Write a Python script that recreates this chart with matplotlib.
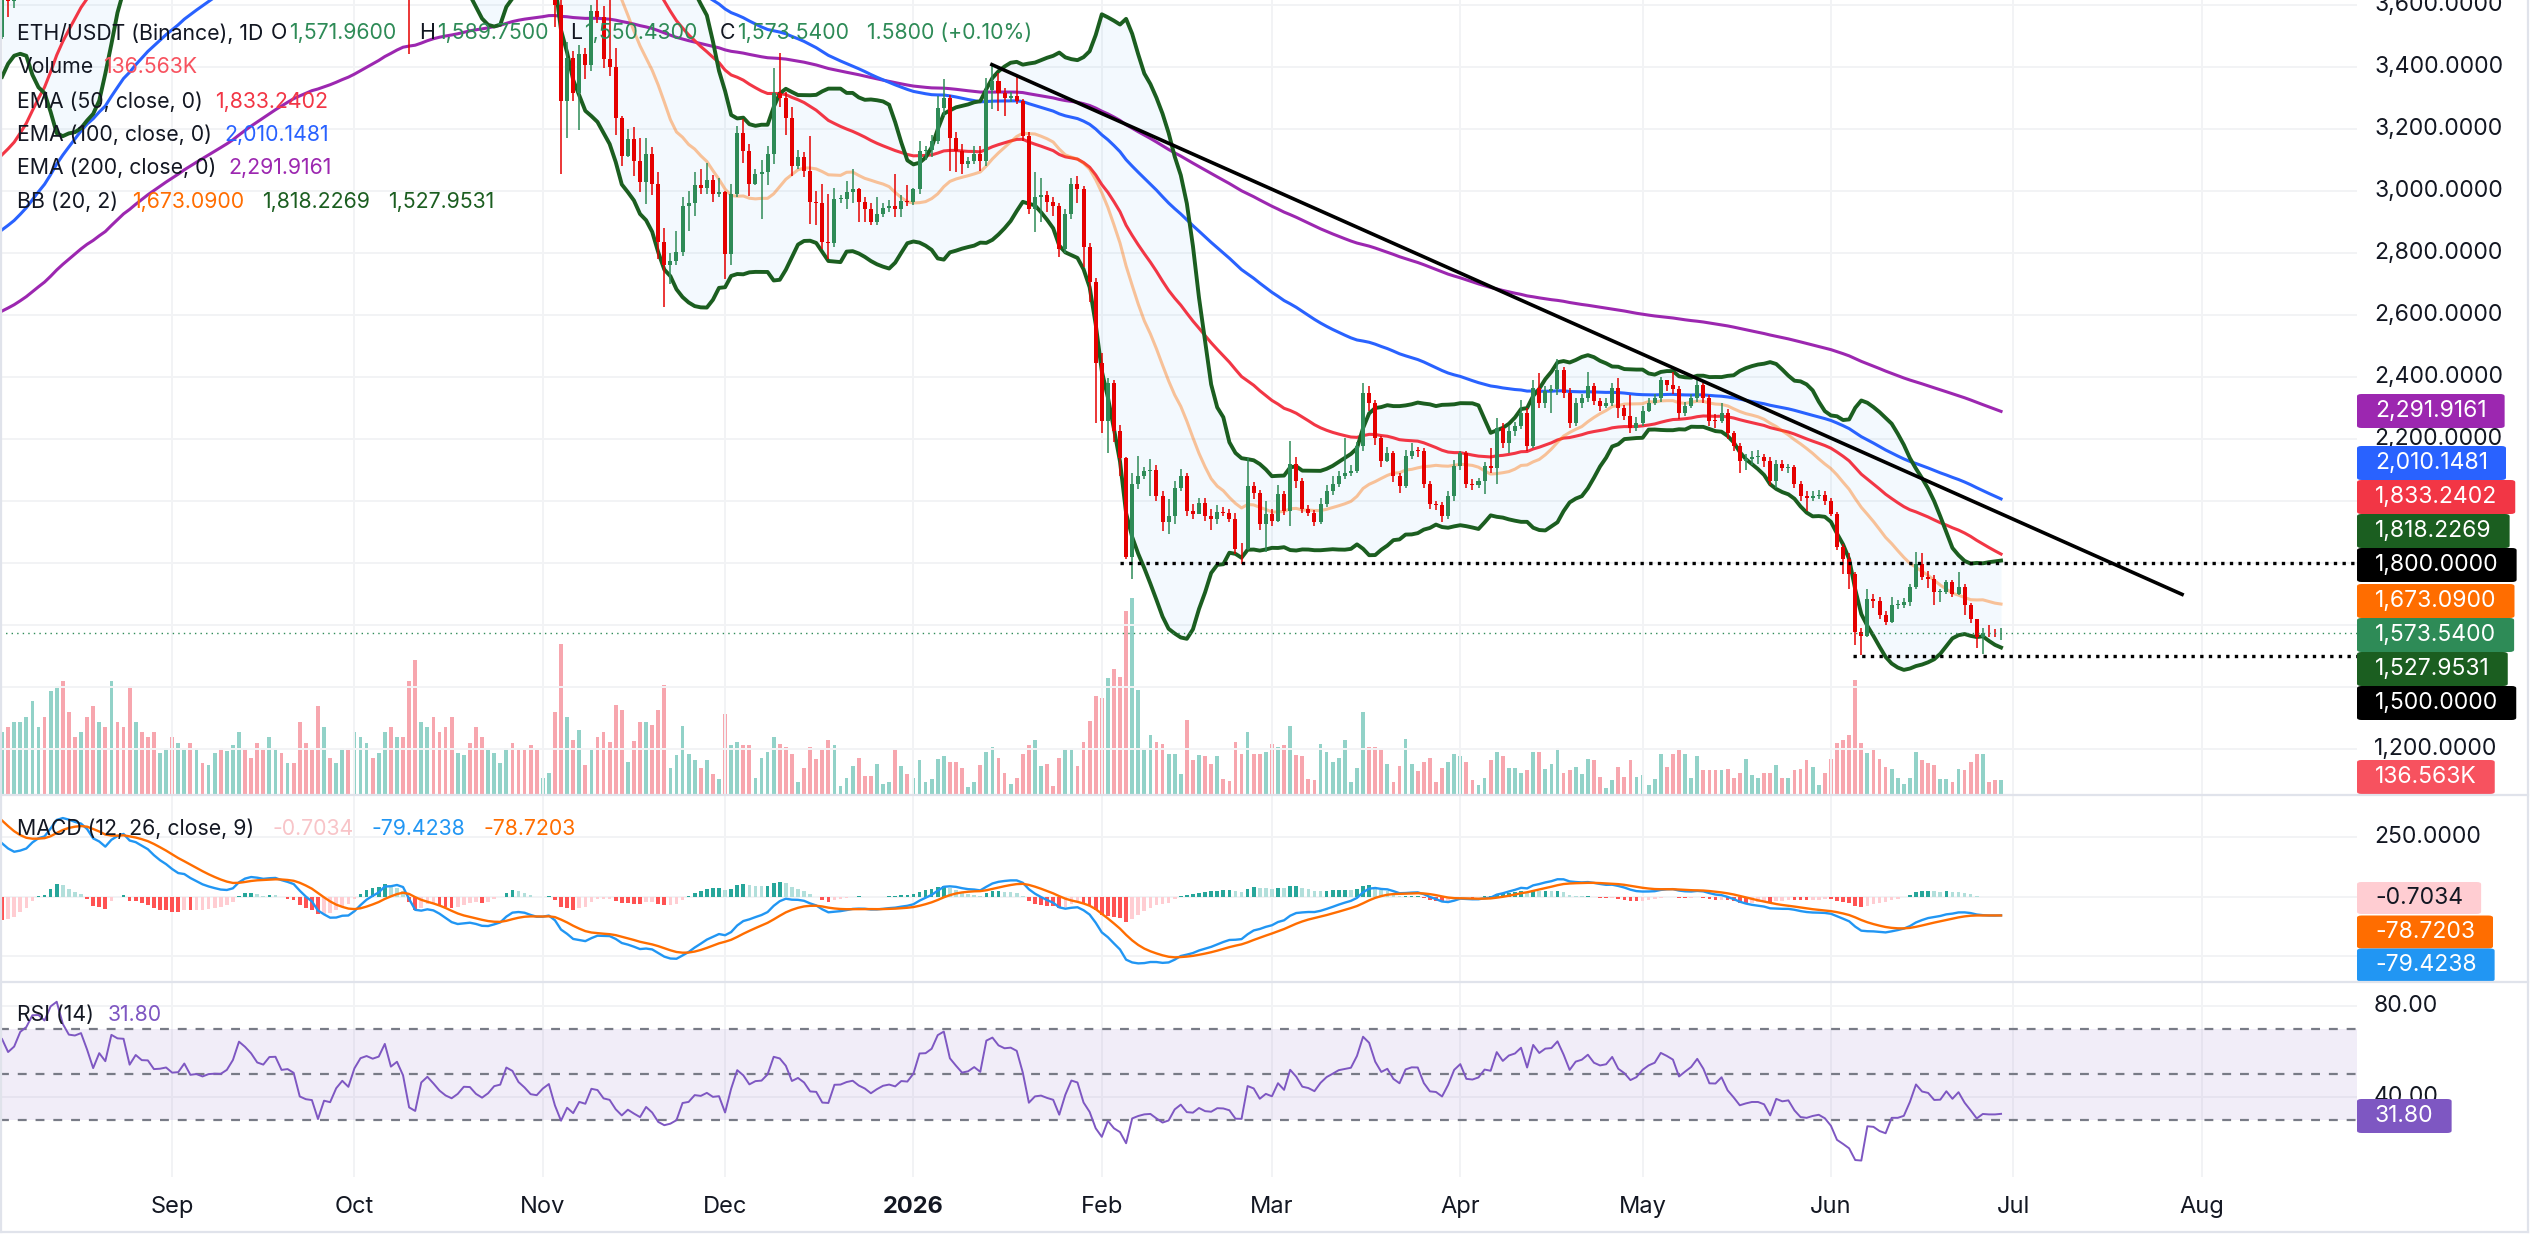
import numpy as np
import pandas as pd
import matplotlib
matplotlib.use("Agg")
import matplotlib.pyplot as plt
from matplotlib.patches import FancyBboxPatch
from matplotlib.lines import Line2D
from matplotlib.transforms import blended_transform_factory

plt.rcParams['font.family'] = ['Inter', 'DejaVu Sans']

W, H = 2530, 1253          # output size in px (dpi 100)
PLOT_R = 2357              # right edge of the plotting area (px)

# ---------- ETH/USDT 1D candles (prices in USDT, volume in K) ----------
START = "2025-07-16"
REF = "2025-09-01"
FIRST_OPEN = 3140

C_JUL25 = [3370, 3475, 3545, 3590, 3755, 3762, 3736, 3626, 3705, 3716, 3744, 3871, 3798, 3792, 3809, 3697]
H_JUL25 = [3390, 3520, 3680, 3670, 3770, 3810, 3800, 3760, 3750, 3740, 3780, 3890, 3940, 3880, 3860, 3870]
L_JUL25 = [3130, 3330, 3430, 3500, 3580, 3700, 3640, 3600, 3500, 3600, 3700, 3700, 3760, 3700, 3720, 3680]
V_JUL25 = [900, 800, 850, 700, 600, 650, 700, 800, 750, 600, 400, 500, 650, 600, 650, 700]

C_AUG25 = [3484, 3395, 3496, 3715, 3611, 3682, 3906, 3995, 4256, 4262, 4220, 4596, 4762, 4555, 4442, 4433,
           4482, 4311, 4081, 4339, 4230, 4832, 4782, 4776, 4380, 4597, 4510, 4506, 4363, 4370, 4391]
H_AUG25 = [3720, 3530, 3540, 3730, 3725, 3700, 3930, 4050, 4300, 4330, 4330, 4640, 4790, 4790, 4680, 4480,
           4500, 4490, 4380, 4350, 4390, 4890, 4870, 4960, 4780, 4620, 4650, 4630, 4540, 4420, 4400]
L_AUG25 = [3480, 3355, 3355, 3490, 3560, 3590, 3670, 3830, 3990, 4150, 4120, 4200, 4550, 4490, 4380, 4370,
           4400, 4220, 4070, 4070, 4220, 4230, 4690, 4740, 4350, 4340, 4480, 4410, 4300, 4280, 4380]
V_AUG25 = [800, 600, 450, 600, 650, 700, 700, 750, 900, 650, 750, 1000, 1050, 1100, 800, 550,
           600, 750, 850, 700, 650, 1100, 700, 650, 1050, 700, 600, 550, 600, 400, 450]

C_SEP25 = [4315, 4322, 4451, 4297, 4308, 4276, 4305, 4310, 4308, 4350, 4460, 4715, 4668, 4608, 4521,
           4500, 4589, 4592, 4475, 4483, 4450, 4199, 4164, 4153, 3874, 4032, 4010, 4141, 4217, 4145]
H_SEP25 = [4490, 4370, 4490, 4480, 4490, 4320, 4320, 4370, 4390, 4390, 4480, 4770, 4770, 4690, 4680,
           4530, 4610, 4640, 4600, 4500, 4490, 4460, 4230, 4200, 4170, 4050, 4040, 4150, 4240, 4230]
L_SEP25 = [4200, 4200, 4260, 4260, 4270, 4240, 4270, 4280, 4280, 4270, 4340, 4440, 4590, 4580, 4480,
           4460, 4410, 4500, 4460, 4470, 4440, 4090, 4100, 4100, 3820, 3815, 3990, 3990, 4100, 4110]
V_SEP25 = [550, 500, 450, 500, 450, 300, 280, 400, 450, 420, 480, 600, 450, 350, 500,
           450, 550, 450, 400, 300, 300, 700, 500, 450, 850, 650, 350, 300, 450, 450]

C_OCT25 = [4350, 4485, 4515, 4489, 4515, 4688, 4461, 4525, 4369, 3833, 3752, 4150, 4245, 4125, 3988, 3890,
           3833, 3890, 3985, 3980, 3870, 3806, 3855, 3935, 3952, 4160, 4120, 3980, 3905, 3810, 3795]
H_OCT25 = [4360, 4500, 4550, 4560, 4600, 4760, 4750, 4560, 4530, 4400, 3850, 4200, 4290, 4290, 4200, 4100,
           3990, 3960, 4040, 4100, 4020, 3910, 3900, 3960, 4000, 4170, 4260, 4180, 4040, 3940, 3920]
L_OCT25 = [4130, 4330, 4410, 4450, 4460, 4500, 4430, 4440, 4330, 3440, 3680, 3720, 4100, 3900, 3950, 3850,
           3680, 3830, 3860, 3920, 3750, 3700, 3750, 3830, 3900, 3920, 4090, 3960, 3870, 3730, 3700]
V_OCT25 = [600, 550, 500, 350, 400, 600, 650, 550, 550, 1100, 1300, 700, 650, 750, 600, 650,
           750, 400, 380, 500, 650, 550, 450, 400, 300, 450, 500, 450, 427, 475, 427]

C_NOV25 = [3860, 3905, 3600, 3290, 3428, 3315, 3440, 3405, 3580, 3560, 3425, 3400, 3234, 3112, 3168,
           3095, 3027, 3120, 3022, 2835, 2762, 2775, 2803, 2950, 2960, 3020, 3010, 3035, 2990, 2995]
H_NOV25 = [3880, 3920, 3915, 3620, 3480, 3450, 3470, 3460, 3600, 3660, 3595, 3620, 3460, 3240, 3200,
           3205, 3170, 3170, 3140, 3060, 2880, 2800, 2870, 2980, 3000, 3060, 3070, 3090, 3050, 3040]
L_NOV25 = [3780, 3840, 3530, 3055, 3170, 3290, 3195, 3360, 3385, 3540, 3395, 3370, 3180, 3080, 3110,
           3047, 2995, 2957, 2985, 2780, 2625, 2700, 2760, 2790, 2870, 2920, 2990, 2990, 2965, 2980]
V_NOV25 = [155, 200, 800, 1456, 750, 525, 620, 280, 427, 553, 600, 505, 864, 815, 310,
           515, 700, 700, 670, 815, 1058, 250, 380, 660, 390, 330, 250, 330, 195, 145]

C_DEC25 = [2795, 2990, 3185, 3128, 3022, 3055, 3060, 3120, 3315, 3300, 3234, 3080, 3110, 3063, 2965, 2960,
           2835, 2830, 2973, 2975, 2995, 3005, 2965, 2940, 2900, 2925, 2945, 2952, 2940, 2968, 2965]
H_DEC25 = [3000, 3022, 3209, 3233, 3150, 3070, 3100, 3144, 3396, 3445, 3320, 3270, 3130, 3125, 3177, 3000,
           3022, 2990, 3010, 2985, 3030, 3071, 3010, 2980, 2960, 2980, 2960, 2970, 3055, 2985, 3020]
L_DEC25 = [2715, 2760, 2980, 3090, 2982, 3020, 2909, 3020, 3085, 3270, 3180, 3047, 3070, 3045, 2892, 2890,
           2811, 2779, 2820, 2960, 2940, 2960, 2900, 2900, 2890, 2890, 2915, 2930, 2917, 2915, 2950]
V_DEC25 = [777, 475, 505, 475, 475, 155, 350, 410, 553, 485, 456, 390, 116, 250, 456, 340,
           437, 525, 475, 78, 155, 270, 350, 175, 175, 290, 97, 116, 437, 270, 195]

C_JAN26 = [3005, 3128, 3130, 3160, 3266, 3298, 3170, 3128, 3087, 3095, 3120, 3095, 3325, 3355, 3315, 3300,
           3305, 3290, 3176, 2941, 2980, 2985, 2965, 2950, 2811, 2925, 3022, 3006, 2819, 2706, 2445]
H_JAN26 = [3010, 3160, 3145, 3180, 3307, 3360, 3310, 3190, 3150, 3110, 3145, 3144, 3365, 3404, 3380, 3330,
           3320, 3372, 3295, 3190, 3060, 3040, 3000, 2980, 2960, 2940, 3040, 3047, 3015, 2830, 2720]
L_JAN26 = [2955, 2990, 3100, 3110, 3150, 3240, 3065, 3060, 3055, 3075, 3085, 3063, 3080, 3265, 3258, 3240,
           3285, 3280, 3160, 2925, 2868, 2900, 2930, 2920, 2787, 2800, 2910, 2960, 2754, 2640, 2250]
V_JAN26 = [155, 330, 116, 145, 340, 370, 310, 310, 250, 68, 116, 280, 410, 456, 350, 200,
           97, 155, 390, 475, 525, 270, 290, 78, 350, 437, 437, 270, 505, 710, 950]

C_FEB26 = [2258, 2380, 2226, 2137, 1820, 2055, 2080, 2096, 2100, 2015, 1933, 1950, 2040, 2080,
           1966, 1958, 1993, 1950, 1942, 1965, 1962, 1942, 1845, 1843, 2047, 2025, 1925, 1958]
H_FEB26 = [2478, 2397, 2390, 2245, 2140, 2088, 2145, 2110, 2135, 2115, 2030, 2007, 2064, 2104,
           2090, 1990, 2010, 2010, 1975, 1985, 1980, 1975, 1960, 1865, 2137, 2060, 2035, 2000]
L_FEB26 = [2218, 2153, 2190, 2080, 1812, 1747, 2039, 2070, 2015, 2000, 1901, 1893, 1925, 2030,
           1950, 1940, 1960, 1935, 1905, 1925, 1950, 1930, 1828, 1795, 1840, 2005, 1905, 1836]
V_FEB26 = [930, 1126, 1214, 1136, 1777, 1903, 1010, 437, 573, 505, 485, 390, 390, 195,
           718, 330, 380, 370, 290, 370, 145, 126, 505, 390, 600, 390, 390, 408]

C_MAR26 = [1935, 2023, 1966, 2120, 2063, 1974, 1961, 1933, 1990, 2031, 2055, 2080, 2088, 2096, 2177, 2348,
           2315, 2201, 2129, 2153, 2080, 2047, 2145, 2161, 2160, 2055, 1990, 1985, 1950, 2015, 2112]
H_MAR26 = [1975, 2050, 2030, 2194, 2140, 2075, 1985, 1970, 2010, 2050, 2080, 2095, 2202, 2115, 2190, 2380,
           2370, 2325, 2210, 2175, 2160, 2090, 2165, 2185, 2175, 2170, 2065, 2000, 1995, 2030, 2130]
L_MAR26 = [1920, 1930, 1955, 1917, 2040, 1960, 1950, 1917, 1925, 1980, 2020, 2045, 2070, 2080, 2090, 2160,
           2290, 2180, 2110, 2125, 2060, 2025, 2040, 2135, 2140, 2040, 1975, 1970, 1933, 1940, 2000]
V_MAR26 = [485, 456, 475, 660, 380, 370, 145, 135, 485, 408, 310, 350, 525, 116, 250, 800,
           456, 456, 437, 290, 120, 270, 535, 290, 220, 310, 350, 116, 250, 310, 388]

C_APR26 = [2153, 2055, 2050, 2063, 2112, 2105, 2234, 2185, 2225, 2240, 2283, 2177, 2364, 2315, 2355,
           2360, 2421, 2348, 2250, 2315, 2330, 2370, 2323, 2307, 2315, 2364, 2300, 2275, 2234, 2250]
H_APR26 = [2160, 2160, 2070, 2075, 2125, 2169, 2267, 2250, 2240, 2255, 2324, 2300, 2389, 2413, 2370,
           2375, 2458, 2430, 2365, 2330, 2345, 2416, 2380, 2330, 2330, 2380, 2397, 2310, 2340, 2270]
L_APR26 = [2100, 2040, 2035, 2040, 2023, 2090, 2055, 2170, 2155, 2210, 2230, 2160, 2170, 2300, 2300,
           2283, 2340, 2330, 2235, 2240, 2300, 2320, 2310, 2290, 2300, 2305, 2267, 2260, 2218, 2225]
V_APR26 = [368, 314, 133, 83, 157, 328, 412, 368, 254, 254, 206, 230, 412, 412, 245,
           294, 450, 206, 230, 265, 196, 343, 328, 167, 59, 133, 265, 167, 328, 167]

C_MAY26 = [2290, 2315, 2330, 2388, 2375, 2360, 2283, 2307, 2330, 2372, 2330, 2258, 2257, 2284, 2218, 2177,
           2128, 2135, 2140, 2140, 2128, 2065, 2118, 2105, 2108, 2055, 2015, 2010, 2015, 2018, 2000]
H_MAY26 = [2305, 2330, 2345, 2400, 2389, 2416, 2370, 2320, 2345, 2395, 2380, 2340, 2280, 2315, 2295, 2225,
           2185, 2150, 2160, 2165, 2150, 2140, 2130, 2130, 2120, 2115, 2065, 2030, 2030, 2035, 2030]
L_MAY26 = [2240, 2285, 2310, 2320, 2355, 2345, 2265, 2275, 2300, 2320, 2315, 2240, 2235, 2250, 2200, 2160,
           2088, 2100, 2115, 2120, 2110, 2050, 2040, 2095, 2090, 2040, 2000, 1966, 2000, 2005, 1985]
V_MAY26 = [182, 83, 148, 392, 265, 392, 427, 392, 157, 368, 230, 230, 230, 230, 245, 157,
           206, 343, 182, 157, 206, 206, 280, 157, 157, 230, 245, 328, 265, 83, 206]

C_JUN26 = [1958, 1852, 1812, 1763, 1576, 1565, 1682, 1676, 1633, 1609, 1665, 1665, 1672, 1722, 1795,
           1755, 1747, 1706, 1707, 1738, 1698, 1722, 1665, 1617, 1560, 1575, 1572, 1571.96, 1573.54]
H_JUN26 = [2010, 1965, 1860, 1830, 1770, 1590, 1715, 1700, 1690, 1645, 1690, 1680, 1685, 1730, 1836,
           1830, 1775, 1760, 1715, 1745, 1745, 1770, 1730, 1670, 1620, 1590, 1600, 1585, 1589.75]
L_JUN26 = [1950, 1840, 1763, 1714, 1535, 1503, 1560, 1655, 1620, 1600, 1605, 1650, 1655, 1660, 1715,
           1745, 1720, 1665, 1675, 1700, 1690, 1695, 1630, 1605, 1525, 1505, 1560, 1560, 1550.43]
V_JUN26 = [343, 500, 524, 573, 1110, 500, 402, 427, 343, 265, 245, 157, 98, 157, 412,
           328, 304, 280, 148, 148, 118, 245, 230, 314, 388, 388, 118, 133, 136.563]

# indicator states on 2025-08-04 (first bar on screen) at the left edge
SEED_DATE = "2025-08-04"
EMA50_SEED, EMA100_SEED, EMA200_SEED = 3116, 2874, 2612
EMA12_SEED, EMA26_SEED, SIGNAL_SEED = 3675, 3450, 321
RSI_GAIN_SEED, RSI_LOSS_SEED = 55, 29

# drawings on the chart
TREND_DATES = ["2026-01-13 22:00", "2026-07-28 19:00"]
TREND_PRICES = [3407, 1698]
LEVELS = [1800, 1500]
LEVEL_FROM = ["2026-02-04", "2026-06-04 14:00"]

# axes
X_FROM, X_TO = "2025-08-03 16:00", "2026-08-26 14:00"
PRICE_TICKS = [3600, 3400, 3200, 3000, 2800, 2600, 2400, 2200, 1200]
MONTHS = ["2025-09-01", "2025-10-01", "2025-11-01", "2025-12-01", "2026-01-01", "2026-02-01",
          "2026-03-01", "2026-04-01", "2026-05-01", "2026-06-01", "2026-07-01", "2026-08-01"]
MONTH_LABELS = ["Sep", "Oct", "Nov", "Dec", "2026", "Feb", "Mar", "Apr", "May", "Jun", "Jul", "Aug"]

# ---------- assemble ----------
close = np.array(C_JUL25 + C_AUG25 + C_SEP25 + C_OCT25 + C_NOV25 + C_DEC25 +
                 C_JAN26 + C_FEB26 + C_MAR26 + C_APR26 + C_MAY26 + C_JUN26, dtype=float)
high = np.array(H_JUL25 + H_AUG25 + H_SEP25 + H_OCT25 + H_NOV25 + H_DEC25 +
                H_JAN26 + H_FEB26 + H_MAR26 + H_APR26 + H_MAY26 + H_JUN26, dtype=float)
low = np.array(L_JUL25 + L_AUG25 + L_SEP25 + L_OCT25 + L_NOV25 + L_DEC25 +
               L_JAN26 + L_FEB26 + L_MAR26 + L_APR26 + L_MAY26 + L_JUN26, dtype=float)
vol = np.array(V_JUL25 + V_AUG25 + V_SEP25 + V_OCT25 + V_NOV25 + V_DEC25 +
               V_JAN26 + V_FEB26 + V_MAR26 + V_APR26 + V_MAY26 + V_JUN26, dtype=float)
opn = np.concatenate([[FIRST_OPEN], close[:-1]])
high = np.maximum(high, np.maximum(opn, close))
low = np.minimum(low, np.minimum(opn, close))

ref = pd.Timestamp(REF)
def day(s):
    return (pd.Timestamp(s) - ref) / pd.Timedelta(days=1)

dates = pd.date_range(START, periods=len(close), freq="D")
t = np.asarray((dates - ref) / pd.Timedelta(days=1), dtype=float)
i0 = int(np.where(dates == pd.Timestamp(SEED_DATE))[0][0])


def ema_seeded(x, span, seed):
    out = np.full(len(x), np.nan)
    out[i0] = seed
    a = 2.0 / (span + 1)
    for i in range(i0 + 1, len(x)):
        out[i] = a * x[i] + (1 - a) * out[i - 1]
    return out


ema50 = ema_seeded(close, 50, EMA50_SEED)
ema100 = ema_seeded(close, 100, EMA100_SEED)
ema200 = ema_seeded(close, 200, EMA200_SEED)
macd = ema_seeded(close, 12, EMA12_SEED) - ema_seeded(close, 26, EMA26_SEED)
signal = ema_seeded(macd, 9, SIGNAL_SEED)
hist = macd - signal

s = pd.Series(close)
bb_mid = s.rolling(20).mean().to_numpy()
bb_dev = s.rolling(20).std(ddof=0).to_numpy()
bb_up, bb_lo = bb_mid + 2 * bb_dev, bb_mid - 2 * bb_dev

rsi = np.full(len(close), np.nan)
g, l = RSI_GAIN_SEED, RSI_LOSS_SEED
rsi[i0] = 100 * g / (g + l)
for i in range(i0 + 1, len(close)):
    d = close[i] - close[i - 1]
    g = (g * 13 + max(d, 0)) / 14
    l = (l * 13 + max(-d, 0)) / 14
    rsi[i] = 100 * g / (g + l)

# ---------- figure ----------
TXT = '#131722'
GREEN, RED = '#2E8B57', '#E50000'
GRID = '#F2F3F5'

fig = plt.figure(figsize=(W / 100, H / 100), dpi=100)
fig.patch.set_facecolor('white')


def panel(top, bottom):
    ax = fig.add_axes([0, 1 - bottom / H, PLOT_R / W, (bottom - top) / H])
    for sp in ax.spines.values():
        sp.set_visible(False)
    ax.tick_params(length=0, labelbottom=False, labelleft=False)
    ax.set_xlim(day(X_FROM), day(X_TO))
    ax.set_xticks([day(m) for m in MONTHS])
    ax.grid(color=GRID, lw=1.4)
    ax.set_axisbelow(True)
    return ax


ax_p = panel(0, 794)
ax_m = panel(796, 981)
ax_r = panel(983, 1177)

# volume overlay at the bottom of the price pane
ax_v = ax_p.twinx()
for sp in ax_v.spines.values():
    sp.set_visible(False)
ax_v.tick_params(length=0, labelright=False)
ax_v.set_ylim(0, 7709)
ax_v.set_zorder(1)
ax_p.set_zorder(2)
ax_p.patch.set_visible(False)
ax_v.patch.set_facecolor('white')
up = close >= opn
ax_v.bar(t, vol, width=0.62, color=np.where(up, '#92D2C8', '#F7A6AE'), lw=0)

# price pane
ax_p.set_ylim(1054, 3615.5)
ax_p.set_yticks(list(range(1200, 3601, 200)))
m = np.arange(len(t)) >= i0
ax_p.fill_between(t[m], bb_up[m], bb_lo[m], color='#2196F3', alpha=0.05, lw=0, zorder=1)
ax_p.plot(t[m], ema200[m], color='#9C27B0', lw=2.2, zorder=3)
ax_p.plot(t[m], ema100[m], color='#2962FF', lw=2.2, zorder=3)
ax_p.plot(t[m], ema50[m], color='#F23645', lw=2.2, zorder=3)
ax_p.plot(t[m], bb_mid[m], color='#FF6D00', lw=2.2, alpha=0.4, zorder=3)
ax_p.plot(t[m], bb_up[m], color='#1B5E20', lw=2.8, zorder=3)
ax_p.plot(t[m], bb_lo[m], color='#1B5E20', lw=2.8, zorder=3)

col = np.where(up, GREEN, RED)
ax_p.vlines(t, low, high, colors=col, lw=1.1, zorder=4)
ax_p.bar(t, np.maximum(np.abs(close - opn), 3), bottom=np.minimum(opn, close),
         width=0.66, color=col, lw=0, zorder=5)

ax_p.plot([day(d) for d in TREND_DATES], TREND_PRICES, color='black', lw=2.6, zorder=6)
for lv, frm in zip(LEVELS, LEVEL_FROM):
    ax_p.plot([day(frm), day(X_TO)], [lv, lv], color='black', lw=2.4,
              ls=(0, (1, 1.6)), zorder=6)
ax_p.axhline(close[-1], color=GREEN, lw=1.0, ls=(0, (1, 3)), zorder=6)

# MACD pane
ax_m.set_ylim(-354, 424)
ax_m.set_yticks([-250, 0, 250])
hc = []
for i in range(len(hist)):
    if np.isnan(hist[i]):
        hc.append('none')
        continue
    prev = hist[i - 1] if i > i0 else hist[i]
    if hist[i] >= 0:
        hc.append('#26A69A' if hist[i] > prev else '#B2DFDB')
    else:
        hc.append('#FFCDD2' if hist[i] > prev else '#FF5252')
ax_m.bar(t[m], hist[m], width=0.6, color=np.array(hc)[m], lw=0, zorder=2)
ax_m.plot(t[m], macd[m], color='#2196F3', lw=1.7, zorder=3)
ax_m.plot(t[m], signal[m], color='#FF6D00', lw=1.7, zorder=3)

# RSI pane
ax_r.set_ylim(5.1, 90)
ax_r.set_yticks([40, 80])
ax_r.axhspan(30, 70, color='#7E57C2', alpha=0.1, lw=0, zorder=1)
for lv in (70, 50, 30):
    ax_r.axhline(lv, color='#787B86', lw=1.6, ls=(0, (4, 4)), zorder=2)
ax_r.plot(t[m], rsi[m], color='#7E57C2', lw=1.4, zorder=3)

# ---------- right-hand scale labels ----------
def scale_labels(ax, ticks, fmt):
    tr = blended_transform_factory(ax.transAxes, ax.transData)
    for v in ticks:
        ax.text(2374 / PLOT_R, v, fmt.format(v), transform=tr, ha='left', va='center',
                fontsize=16.5, color=TXT, clip_on=False)


scale_labels(ax_p, PRICE_TICKS, "{:,.4f}")
scale_labels(ax_m, [250], "{:.4f}")
scale_labels(ax_r, [80, 40], "{:.2f}")

renderer = fig.canvas.get_renderer()


def badge(y, text, face, tc='white', h=34):
    tx = fig.text(2375 / W, 1 - y / H, text, color=tc, fontsize=16.5, ha='left',
                  va='center', zorder=7)
    w = tx.get_window_extent(renderer).width + 36
    fig.add_artist(FancyBboxPatch((PLOT_R / W, 1 - (y + h / 2) / H), w / W, h / H,
                                  boxstyle='round,pad=0,rounding_size=0.0018',
                                  transform=fig.transFigure, facecolor=face,
                                  edgecolor='none', zorder=6))


PRICE_BADGES = [(411, "2,291.9161", '#9C27B0'), (463, "2,010.1481", '#2962FF'),
                (497, "1,833.2402", '#F23645'), (531, "1,818.2269", '#1B5E20'),
                (565, "1,800.0000", '#000000'), (601, "1,673.0900", '#FF6D00'),
                (635, "1,573.5400", GREEN), (669, "1,527.9531", '#1B5E20'),
                (703, "1,500.0000", '#000000'), (777, "136.563K", '#F7525F')]
for y, txt, fc in PRICE_BADGES:
    badge(y, txt, fc)
badge(898, "-0.7034", '#FFCDD2', TXT, 32)
badge(932, "-78.7203", '#FF6D00', 'white', 33)
badge(965, "-79.4238", '#2196F3', 'white', 33)
badge(1116, "31.80", '#7E57C2', 'white', 34)

# ---------- legends ----------
def legend_row(y, parts):
    x = 17
    for text, color, gap in parts:
        x += gap
        tx = fig.text(x / W, 1 - y / H, text, color=color, fontsize=15.3, ha='left',
                      va='center', zorder=8)
        x += tx.get_window_extent(renderer).width


legend_row(33, [("ETH/USDT (Binance), 1D", TXT, 0), ("O", TXT, 8), ("1,571.9600", GREEN, 2),
                ("H", TXT, 22), ("1,589.7500", GREEN, 2), ("L", TXT, 22), ("1,550.4300", GREEN, 2),
                ("C", TXT, 22), ("1,573.5400", GREEN, 2), ("1.5800 (+0.10%)", GREEN, 18)])
legend_row(67, [("Volume", TXT, 0), ("136.563K", '#F7525F', 10)])
legend_row(102, [("EMA (50, close, 0)", TXT, 0), ("1,833.2402", '#F23645', 12)])
legend_row(135, [("EMA (100, close, 0)", TXT, 0), ("2,010.1481", '#2962FF', 12)])
legend_row(168, [("EMA (200, close, 0)", TXT, 0), ("2,291.9161", '#9C27B0', 12)])
legend_row(202, [("BB (20, 2)", TXT, 0), ("1,673.0900", '#FF6D00', 14),
                 ("1,818.2269", '#1B5E20', 18), ("1,527.9531", '#1B5E20', 18)])
legend_row(829, [("MACD (12, 26, close, 9)", TXT, 0), ("-0.7034", '#F8C4C8', 18),
                 ("-79.4238", '#2196F3', 18), ("-78.7203", '#FF6D00', 18)])
legend_row(1015, [("RSI (14)", TXT, 0), ("31.80", '#7E57C2', 14)])

# ---------- time axis ----------
trx = blended_transform_factory(ax_r.transData, fig.transFigure)
for d, lab in zip(MONTHS, MONTH_LABELS):
    fig.text(day(d), 1 - 1207 / H, lab, transform=trx, ha='center', va='center',
             fontsize=17, color=TXT, fontweight='bold' if lab == "2026" else 'normal')

# pane borders
BORDER = '#E0E3EB'
for y in (795, 982, 1232):
    fig.add_artist(Line2D([0, 2528 / W], [1 - y / H] * 2, color=BORDER, lw=1.6,
                          transform=fig.transFigure, zorder=9))
fig.add_artist(Line2D([2528 / W] * 2, [1 - 1232 / H, 1], color=BORDER, lw=1.6,
                      transform=fig.transFigure, zorder=9))
fig.add_artist(Line2D([0.5 / W] * 2, [1 - 1232 / H, 1], color=BORDER, lw=1.6,
                      transform=fig.transFigure, zorder=9))

fig.savefig("out.png", dpi=100, facecolor='white')
